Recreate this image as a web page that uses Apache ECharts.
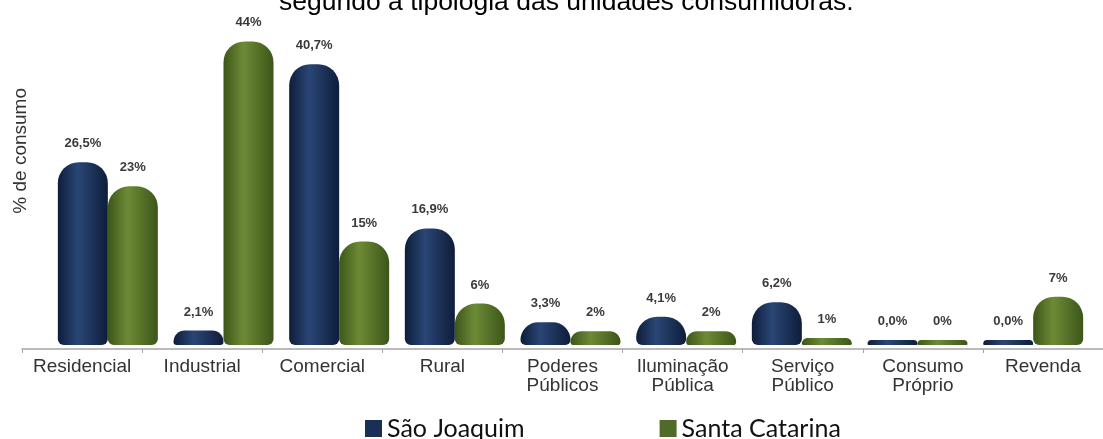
<!DOCTYPE html>
<html>
<head>
<meta charset="utf-8">
<script src="https://cdn.jsdelivr.net/npm/echarts@6/dist/echarts.min.js"></script>
<style>
html,body{margin:0;padding:0;background:#fff;}
#chart{width:1103px;height:439px;}
</style>
</head>
<body>
<div id="chart"></div>
<script>
const categories = ['Residencial','Industrial','Comercial','Rural','Poderes\nPúblicos','Iluminação\nPública','Serviço\nPúblico','Consumo\nPróprio','Revenda'];
const saoJoaquim = [26.5, 2.1, 40.7, 16.9, 3.3, 4.1, 6.2, 0.0, 0.0];
const santaCatarina = [23, 44, 15, 6, 2, 2, 1, 0, 7];
const seriesNames = ['São Joaquim', 'Santa Catarina'];
const titleText = 'segundo a tipologia das unidades consumidoras.';
const yName = '% de consumo';

function grad(edge, mid) {
  return new echarts.graphic.LinearGradient(0, 0, 1, 0, [
    {offset: 0, color: edge},
    {offset: 0.4, color: mid},
    {offset: 1, color: edge}
  ]);
}
const navyFill = grad('#0e1d3a', '#2a4675');
const greenFill = grad('#3c5619', '#6d8b36');

const chart = echarts.init(document.getElementById('chart'), null, {renderer: 'canvas'});
const labelStyle = {
  show: true, position: 'top', distance: 12,
  fontFamily: 'Liberation Sans', fontSize: 13, fontWeight: 'bold', color: '#3a3a3a'
};
chart.setOption({
  animation: false,
  backgroundColor: '#ffffff',
  title: {
    text: titleText, left: 274, top: -16,
    textStyle: {fontFamily: 'Liberation Sans', fontSize: 26.5, fontWeight: 'normal', color: '#000'}
  },
  legend: {
    data: [
      {name: seriesNames[0], itemStyle: {color: '#1a2f55'}},
      {name: seriesNames[1], itemStyle: {color: '#4f6b27'}}
    ],
    left: 360, top: 411, itemWidth: 17, itemHeight: 17, itemGap: 135,
    icon: 'rect',
    textStyle: {fontFamily: 'Lato', fontSize: 25, color: '#111'}
  },
  graphic: [{
    type: 'text', left: 11, top: 88, rotation: Math.PI / 2,
    style: {text: yName, fontFamily: 'Liberation Sans', fontSize: 19, fill: '#333'}
  }],
  grid: [
    {left: 22, right: -10, top: 0, bottom: 90},
    {left: 50, right: 12, top: 0, bottom: 94}
  ],
  xAxis: [
    {
      gridIndex: 0, type: 'category', data: categories,
      axisLine: {show: true, lineStyle: {color: '#a5a5a5', width: 1.5}},
      axisTick: {show: true, length: 4, lineStyle: {color: '#a5a5a5'}},
      axisLabel: {fontFamily: 'Liberation Sans', fontSize: 19, lineHeight: 19, color: '#333', margin: 8, interval: 0}
    },
    {
      gridIndex: 1, type: 'category', data: categories,
      axisLine: {show: false}, axisTick: {show: false}, axisLabel: {show: false}
    }
  ],
  yAxis: [
    {gridIndex: 0, type: 'value', min: 0, max: 50, show: false},
    {gridIndex: 1, type: 'value', min: 0, max: 50, show: false}
  ],
  series: [
    {
      name: seriesNames[0], type: 'bar', xAxisIndex: 1, yAxisIndex: 1,
      data: saoJoaquim, barWidth: 50, barGap: '0%', barMinHeight: 5,
      itemStyle: {color: navyFill, borderRadius: [21, 21, 6, 6]},
      label: Object.assign({}, labelStyle, {formatter: p => p.value.toFixed(1).replace('.', ',') + '%'})
    },
    {
      name: seriesNames[1], type: 'bar', xAxisIndex: 1, yAxisIndex: 1,
      data: santaCatarina, barWidth: 50, barGap: '0%', barMinHeight: 5,
      itemStyle: {color: greenFill, borderRadius: [21, 21, 6, 6]},
      label: Object.assign({}, labelStyle, {formatter: p => p.value + '%'})
    }
  ]
});
</script>
</body>
</html>
